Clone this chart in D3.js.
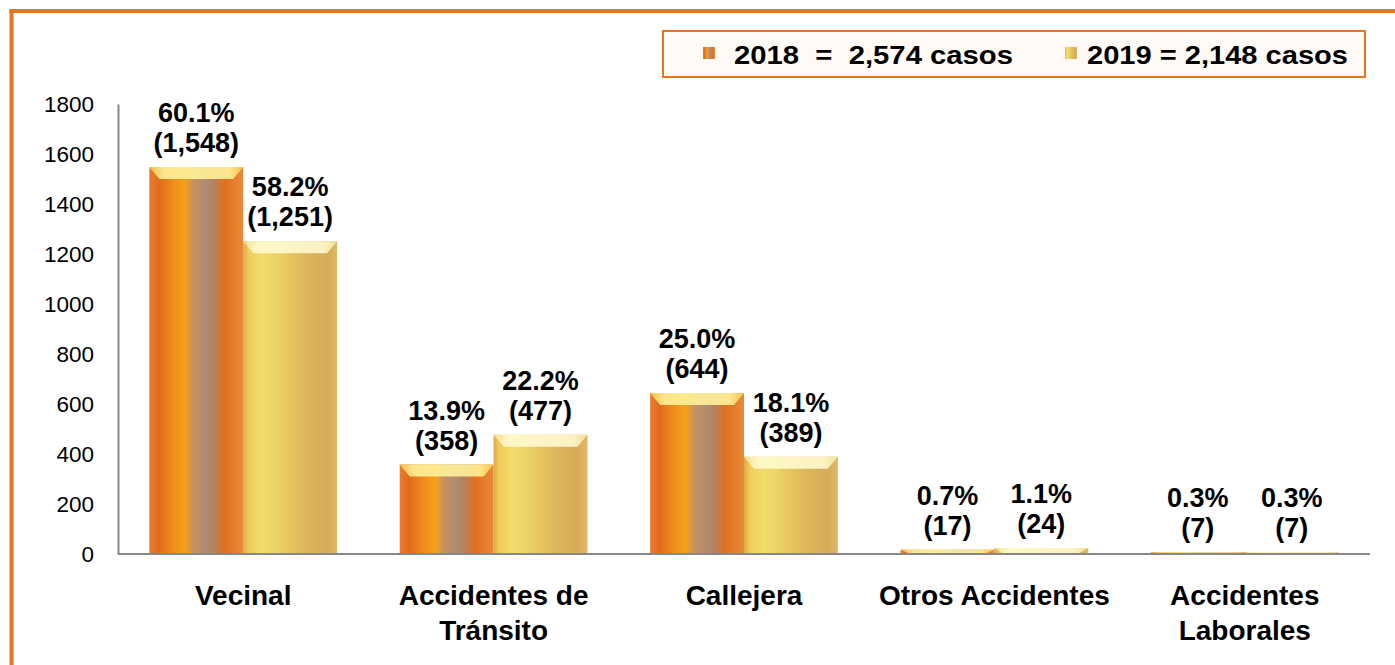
<!DOCTYPE html>
<html><head><meta charset="utf-8">
<script src="https://cdn.jsdelivr.net/npm/d3@7"></script>
<style>body{margin:0;background:#fff;}svg{display:block;font-family:Arial,"Liberation Sans",sans-serif;}</style>
</head><body>
<svg id="c" width="1395" height="665"></svg>
<script>
const categories = [["Vecinal"], ["Accidentes de","Tránsito"], ["Callejera"], ["Otros Accidentes"], ["Accidentes","Laborales"]];
const series = ["2018", "2019"];
const values2018 = [1548, 358, 644, 17, 7];
const values2019 = [1251, 477, 389, 24, 7];
const pct2018 = ["60.1%", "13.9%", "25.0%", "0.7%", "0.3%"];
const pct2019 = ["58.2%", "22.2%", "18.1%", "1.1%", "0.3%"];
const legendLabels = ["2018  =  2,574 casos", "2019 = 2,148 casos"];
const yTicks = [0, 200, 400, 600, 800, 1000, 1200, 1400, 1600, 1800];

const svg = d3.select("#c");
const W = 1395, H = 665;
const m = {l:118, r:25, t:104, b:111};
const x0 = d3.scaleBand().domain(d3.range(categories.length)).range([m.l, W - m.r]).paddingInner(0.25).paddingOuter(0.125);
const x1 = d3.scaleBand().domain(series).range([0, x0.bandwidth()]);
const y = d3.scaleLinear().domain([0, 1800]).range([H - m.b, m.t]);

// frame
svg.append("line").attr("x1",11.5).attr("x2",11.5).attr("y1",9).attr("y2",H).attr("stroke","#e8751f").attr("stroke-width",4);
svg.append("line").attr("x1",9.5).attr("x2",W).attr("y1",11).attr("y2",11).attr("stroke","#e8751f").attr("stroke-width",4);

const defs = svg.append("defs");
function grad(id, stops){
  const g = defs.append("linearGradient").attr("id",id).attr("x1","0").attr("x2","1").attr("y1","0").attr("y2","0");
  stops.forEach(s=>g.append("stop").attr("offset",s[0]).attr("stop-color",s[1]));
}
grad("g2018", [[0,"#eb7d30"],[0.1,"#e06a1c"],[0.25,"#f08c1a"],[0.38,"#f5a01c"],[0.47,"#c89060"],[0.6,"#b08c74"],[0.7,"#b8805a"],[0.8,"#e2701e"],[1,"#e98a3a"]]);
grad("g2019", [[0,"#e0a848"],[0.06,"#eecc5c"],[0.2,"#f2dc6a"],[0.35,"#ecd466"],[0.5,"#e6c45e"],[0.7,"#dcb45a"],[0.9,"#d4ac5a"],[1,"#e0b868"]]);
grad("cap2018", [[0,"#f7c94a"],[0.15,"#fff29a"],[0.85,"#fff29a"],[1,"#f7c94a"]]);
grad("cap2019", [[0,"#f5e49a"],[0.15,"#fffad0"],[0.85,"#fffad0"],[1,"#f5e49a"]]);

// axes
const yAxis = d3.axisLeft(y).tickValues(yTicks).tickFormat(d3.format("d")).tickSize(0).tickPadding(24);
const ga = svg.append("g").attr("transform",`translate(${m.l},0)`).call(yAxis);
ga.attr("font-size",null).attr("font-family",null);
ga.select(".domain").attr("stroke","#888").attr("stroke-width",2);
ga.selectAll("text").style("font-size","22.5px").attr("fill","#000");

const data = categories.map((c,i)=>({i, vals:[
  {s:"2018", v:values2018[i], p:pct2018[i]},
  {s:"2019", v:values2019[i], p:pct2019[i]}]}));

const groups = svg.append("g").selectAll("g").data(data).join("g")
  .attr("transform", d=>`translate(${x0(d.i)},0)`);
const bars = groups.selectAll("g.bar").data(d=>d.vals).join("g").attr("class","bar");
bars.append("rect")
  .attr("x", d=>x1(d.s)).attr("width", x1.bandwidth())
  .attr("y", d=>y(d.v)).attr("height", d=>y(0)-y(d.v))
  .attr("fill", d=>`url(#g${d.s})`);
bars.append("path")
  .attr("d", d=>{
    const xa = x1(d.s), w = x1.bandwidth(), yt = y(d.v), h = Math.min(12, y(0)-yt);
    return `M${xa},${yt}L${xa+w},${yt}L${xa+w-10},${yt+h}L${xa+10},${yt+h}Z`;
  })
  .attr("fill", d=>`url(#cap${d.s})`).attr("opacity",0.9);

// value labels
const lab = bars.append("text").attr("text-anchor","middle").attr("font-weight","bold").style("font-size","27px").attr("fill","#000");
lab.append("tspan").attr("x", d=>x1(d.s)+x1.bandwidth()/2).attr("y", d=>y(d.v)-45).text(d=>d.p);
lab.append("tspan").attr("x", d=>x1(d.s)+x1.bandwidth()/2).attr("y", d=>y(d.v)-15).text(d=>`(${d3.format(",")(d.v)})`);

// baseline
svg.append("line").attr("x1",m.l).attr("x2",W-m.r).attr("y1",y(0)).attr("y2",y(0)).attr("stroke","#888").attr("stroke-width",2);

// category labels
const cl = svg.append("g").selectAll("text").data(categories).join("text")
  .attr("text-anchor","middle").attr("font-weight","bold").style("font-size","28px").attr("fill","#000");
cl.each(function(lines,i){
  const t = d3.select(this);
  lines.forEach((ln,j)=>t.append("tspan").attr("x", x0(i)+x0.bandwidth()/2).attr("y", 605 + j*35).text(ln));
});

// legend
const lg = svg.append("g");
lg.append("rect").attr("x",663).attr("y",31).attr("width",702).attr("height",46).attr("fill","#fffaf6").attr("stroke","#e8751f").attr("stroke-width",2);
const legX = [703, 1065];
const legTx = [734, 1087];
const legW = [279, 261];
series.forEach((s,i)=>{
  lg.append("rect").attr("x",legX[i]).attr("y",47).attr("width",12).attr("height",12).attr("fill",`url(#g${s})`);
  lg.append("text").attr("x",legTx[i]).attr("y",64).attr("font-weight","bold").style("font-size","26px").attr("fill","#000")
    .attr("textLength", legW[i]).attr("lengthAdjust","spacingAndGlyphs").style("white-space","pre").text(legendLabels[i]);
});
</script>
</body></html>
